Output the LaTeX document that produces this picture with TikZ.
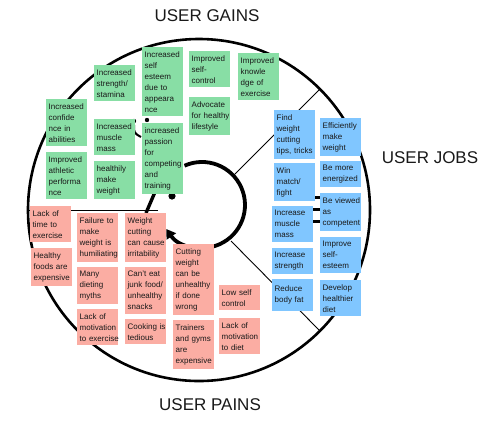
\documentclass[tikz,border=0pt]{standalone}
\usepackage{fontspec}
\setmainfont{Liberation Sans}
\usetikzlibrary{arrows.meta}
\hyphenpenalty=10000
\definecolor{gaingreen}{RGB}{136,222,165}
\definecolor{jobblue}{RGB}{128,198,255}
\definecolor{painred}{RGB}{251,173,163}
\tikzset{
	note/.style={anchor=north west, inner xsep=2.5pt, inner ysep=4pt, text width=36pt, align=left, text=black!90, font=\fontsize{8}{11}\selectfont},
	gain/.style={note, fill=gaingreen},
	job/.style={note, fill=jobblue},
	pain/.style={note, fill=painred},
	heading/.style={text=black!90, font=\fontsize{17}{20}\selectfont},
	divider/.style={line width=0.9pt}
}
\begin{document}
\begin{tikzpicture}[x=1pt, y=-1pt]
				\useasboundingbox (0,0) rectangle (492,432);
				\coordinate (c) at (199,210);
				\draw[line width=2.6pt] (c) circle (171);

				\coordinate (ur1) at (233,176); \coordinate (ur2) at (320,89);
				\coordinate (lr1) at (231,241); \coordinate (lr2) at (320,331);
				\coordinate (l1) at (158,210); \coordinate (l2) at (28,210);
				\draw[divider] (ur1) -- (ur2);
				\draw[divider] (lr1) -- (lr2);
				\draw[divider] (l1) -- (l2);

				\draw[line width=3.8pt, -{Triangle[width=11pt,length=9pt]}] (184.5,165.7) arc[start angle=-114, end angle=146, radius=43];
				\draw[line width=3.4pt] (155,192) -- (146,213);
				\fill (172,196) circle (3.6);
				\fill (134,121) circle (2.2);
				\fill (147,120) circle (2.2);
				\draw[line width=2pt] (134,125) .. controls (134,133) .. (141,137);
				\foreach \y in {197,209,221}
					\draw[line width=3pt] (312,\y) -- (321,\y);

				\node[heading] (gains) at (207,16) {USER GAINS};
				\node[heading] (jobs) at (430,158) {USER JOBS};
				\node[heading] (pains) at (210,405) {USER PAINS};

				\node[gain] (g1) at (46,99) {Increased\\confide\\nce~in\\abilities};
				\node[gain] (g2) at (46,152) {Improved\\athletic\\performa\\nce};
				\node[gain] (g3) at (94,65) {Increased\\strength/\\stamina};
				\node[gain] (g4) at (94,119) {Increased\\muscle\\mass};
				\node[gain] (g5) at (94,161) {healthily\\make\\weight};
				\node[gain] (g6) at (142,47) {Increased\\self\\esteem\\due~to\\appeara\\nce};
				\node[gain] (g7) at (142,123) {increased\\passion\\for\\competing\\and\\training};
				\node[gain] (g8) at (189,51) {Improved\\self-\\control};
				\node[gain] (g9) at (189,97) {Advocate\\for~healthy\\lifestyle};
				\node[gain] (g10) at (238,53) {Improved\\knowle\\dge~of\\exercise};

				\node[job] (j1) at (274,110) {Find\\weight\\cutting\\tips,~tricks};
				\node[job] (j2) at (320,118) {Efficiently\\make\\weight};
				\node[job] (j3) at (274,163) {Win\\match/\\fight};
				\node[job] (j4) at (320,161) {Be~more\\energized};
				\node[job] (j5) at (320,193) {Be~viewed\\as\\competent};
				\node[job] (j6) at (272,206) {Increase\\muscle\\mass};
				\node[job] (j7) at (320,237) {Improve\\self-\\esteem};
				\node[job] (j8) at (272,248) {Increase\\strength};
				\node[job, minimum height=32pt] (j9) at (272,279) {Reduce\\body~fat};
				\node[job] (j10) at (320,280) {Develop\\healthier\\diet};

				\node[pain] (p1) at (30,206) {Lack~of\\time~to\\exercise};
				\node[pain] (p2) at (31,248) {Healthy\\foods~are\\expensive};
				\node[pain] (p3) at (77,213) {Failure~to\\make\\weight~is\\humiliating};
				\node[pain] (p4) at (77,267) {Many\\dieting\\myths};
				\node[pain] (p5) at (77,309) {Lack~of\\motivation\\to~exercise};
				\node[pain] (p6) at (125,213) {Weight\\cutting\\can~cause\\irritability};
				\node[pain] (p7) at (125,267) {Can't~eat\\junk~food/\\unhealthy\\snacks};
				\node[pain] (p8) at (125,319) {Cooking~is\\tedious};
				\node[pain] (p9) at (173,244) {Cutting\\weight\\can~be\\unhealthy\\if~done\\wrong};
				\node[pain] (p10) at (173,320) {Trainers\\and~gyms\\are\\expensive};
				\node[pain] (p11) at (219,285) {Low~self\\control};
				\node[pain] (p12) at (219,318) {Lack~of\\motivation\\to~diet};
			\end{tikzpicture}
\end{document}
